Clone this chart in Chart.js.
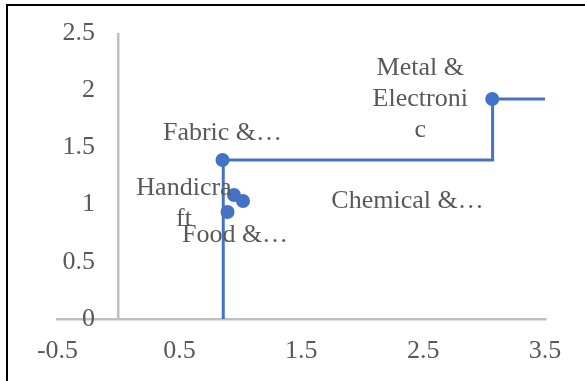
<!DOCTYPE html>
<html>
<head>
<meta charset="utf-8">
<script src="https://cdn.jsdelivr.net/npm/chart.js@4.4.1/dist/chart.umd.min.js"></script>
<style>
	html, body { margin: 0; padding: 0; background: #fff; }
	#wrap { position: relative; width: 585px; height: 381px; overflow: hidden; }
	#frame { position: absolute; left: 6px; top: 3.5px; width: 600px; height: 400px;
		border-top: 2.5px solid #000; border-left: 2.5px solid #000; pointer-events: none; }
</style>
</head>
<body>
<div id="wrap">
	<canvas id="chart" width="585" height="381"></canvas>
	<div id="frame"></div>
</div>
<script>
// 数据
const pointNames = [['Fabric &…'], ['Handicra', 'ft'], ['Chemical &…'], ['Food &…'], ['Metal &', 'Electroni', 'c']];
const pointX = [0.854, 0.948, 1.022, 0.895, 3.067];
const pointY = [1.39, 1.084, 1.031, 0.935, 1.923];

const stepX = [0.86, 0.86, 3.07, 3.07, 3.5];
const stepY = [0, 1.39, 1.39, 1.923, 1.923];

const xTickLabels = [-0.5, 0.5, 1.5, 2.5, 3.5];
const yTickLabels = [0, 0.5, 1, 1.5, 2, 2.5];

const blue = '#4472C4';
const axisGray = '#BFBFBF';
const textGray = '#595959';
const font = { family: '"Liberation Serif", "Times New Roman", serif', size: 26 };

// 标签相对数据点的偏移 (px)
const labelShift = [[0, -27], [-50, 8.5], [164.5, 0.5], [7.5, 23.5], [-72, 0.5]];

const pointLabelPlugin = {
	id: 'pointLabels',
	afterDatasetsDraw(chart) {
		const meta = chart.getDatasetMeta(1);
		const c = chart.ctx;
		c.save();
		c.font = `${font.size}px ${font.family}`;
		c.fillStyle = textGray;
		c.textAlign = 'center';
		c.textBaseline = 'middle';
		const lh = 31;
		meta.data.forEach((pt, i) => {
			const lines = pointNames[i];
			const cx = pt.x + labelShift[i][0];
			const cy = pt.y + labelShift[i][1];
			const top = cy - (lines.length - 1) * lh / 2;
			lines.forEach((line, j) => c.fillText(line, cx, top + j * lh));
		});
		c.restore();
	}
};

const ctx = document.getElementById('chart').getContext('2d');
new Chart(ctx, {
	type: 'scatter',
	data: {
		datasets: [
			{
				label: 'step',
				data: stepX.map((x, i) => ({ x, y: stepY[i] })),
				showLine: true,
				borderColor: blue,
				borderWidth: 3,
				pointRadius: 0,
				pointHoverRadius: 0
			},
			{
				label: 'sectors',
				data: pointX.map((x, i) => ({ x, y: pointY[i] })),
				backgroundColor: blue,
				borderWidth: 0,
				pointRadius: 7,
				pointHoverRadius: 7
			}
		]
	},
	options: {
		responsive: false,
		animation: false,
		layout: { padding: { left: 57.5, right: 40, top: 33, bottom: 0 } },
		plugins: {
			legend: { display: false },
			tooltip: { enabled: false }
		},
		scales: {
			x: {
				type: 'linear',
				min: -0.5,
				max: 3.5,
				afterFit: (scale) => { scale.height = 62; },
				afterBuildTicks: (scale) => {
					// 额外加 0 处刻度，用来画纵轴线
					scale.ticks = [xTickLabels[0], 0, ...xTickLabels.slice(1)].map(v => ({ value: v }));
				},
				ticks: {
					autoSkip: false,
					maxRotation: 0,
					padding: 17,
					color: textGray,
					font: font,
					callback: (v) => (v === 0 ? '' : String(v))
				},
				grid: {
					drawTicks: false,
					lineWidth: 2.5,
					color: (c) => (c.tick && c.tick.value === 0 ? axisGray : 'rgba(0,0,0,0)')
				},
				border: { display: true, color: axisGray, width: 2.5 }
			},
			y: {
				type: 'linear',
				min: 0,
				max: 2.5,
				afterFit: (scale) => { scale.width = 0; },
				afterBuildTicks: (scale) => {
					scale.ticks = yTickLabels.map(v => ({ value: v }));
				},
				ticks: {
					mirror: true,
					crossAlign: 'far',
					padding: 5,
					color: textGray,
					font: font,
					callback: (v) => String(v)
				},
				grid: { display: false, drawTicks: false },
				border: { display: false }
			}
		}
	},
	plugins: [pointLabelPlugin]
});
</script>
</body>
</html>
